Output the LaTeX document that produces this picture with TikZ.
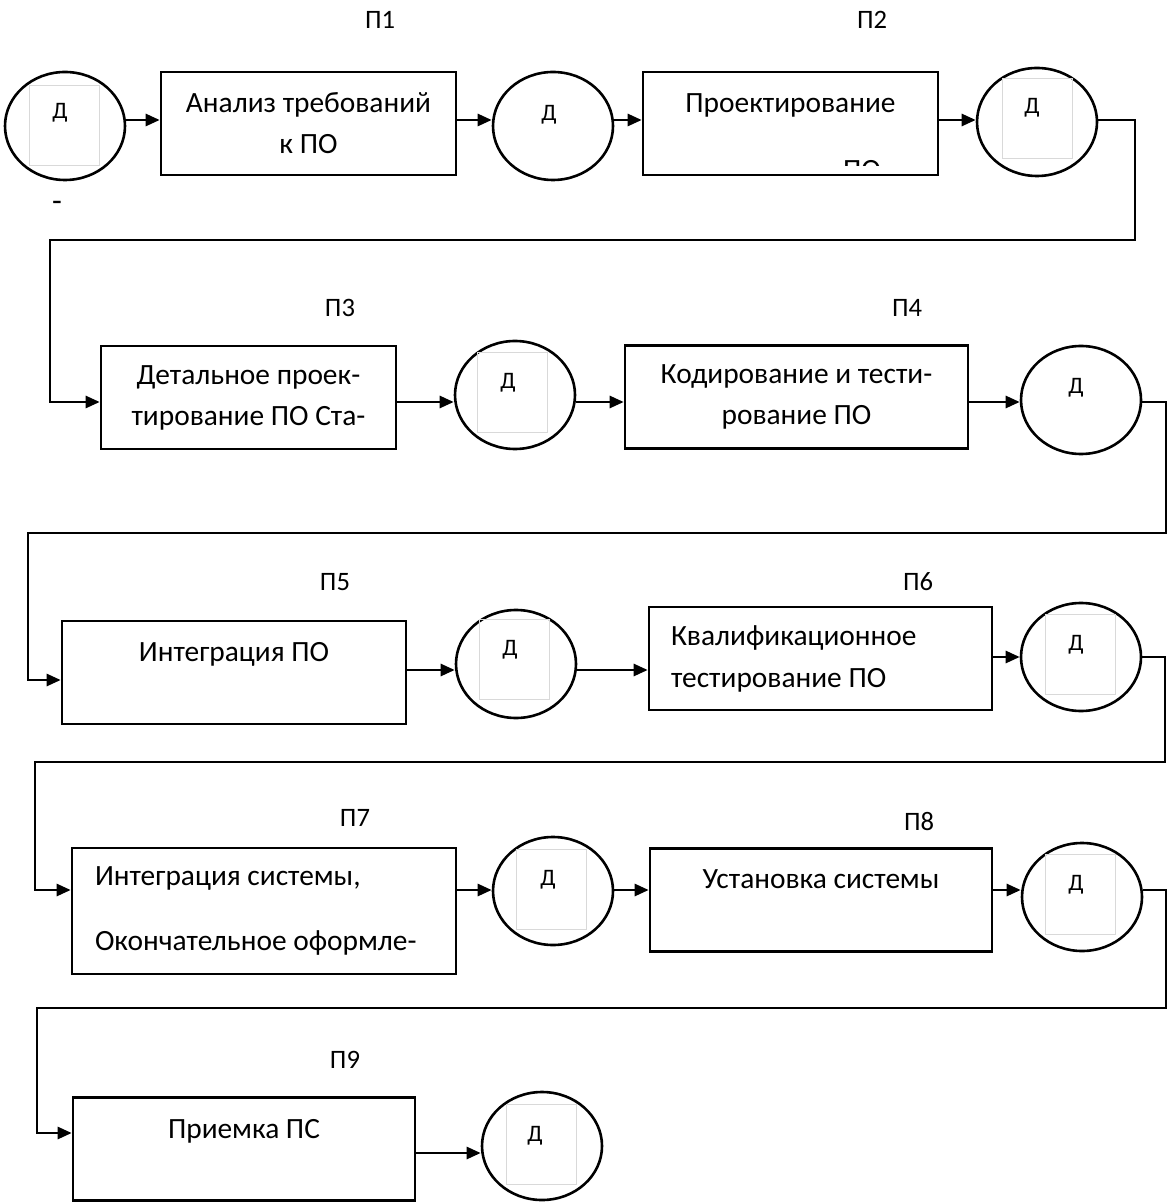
\documentclass[tikz,border=0pt]{standalone}
\usepackage{fontspec}
\setmainfont{Carlito}
\usetikzlibrary{shapes.geometric,arrows.meta}
\tikzset{
  procbox/.style={draw, line width=1.3pt, minimum width=147.5pt, minimum height=51.5pt, align=center, font=\fontsize{14.7}{20.5}\selectfont},
  docnode/.style={draw, ellipse, line width=1.3pt, minimum width=60pt, minimum height=54pt, inner sep=0pt},
  docframe/.style={draw=gray!30, line width=0.4pt, minimum width=35pt, minimum height=40pt, inner sep=0pt},
  doctext/.style={font=\fontsize{11.8}{13}\selectfont, inner sep=0pt},
  lbl/.style={font=\fontsize{13.3}{15}\selectfont},
  flow/.style={line width=1.3pt, -{Triangle[length=7pt,width=6pt]}}
}
\begin{document}
\begin{tikzpicture}[x=0.5pt,y=-0.5pt]
\useasboundingbox (0,0) rectangle (1168,1202);
% heights of the arrows in each row
\coordinate (r1) at (0,120);
\coordinate (r2) at (0,402);
\coordinate (r3in) at (0,680);
\coordinate (r3) at (0,670);
\coordinate (r3b) at (0,657);
\coordinate (r4) at (0,890);
\coordinate (r5in) at (0,1133);
\coordinate (r5) at (0,1153);
% processes
\node[procbox] (p1) at (308.5,123.5) {Анализ требований\\к ПО};
\node[procbox] (p2) at (790.5,123.5) {Проектирование\\\mbox{}};
\node[procbox] (p3) at (248.5,397.5) {Детальное проек-\\тирование ПО Ста-};
\node[procbox, minimum width=171.5pt] (p4) at (796.5,397) {Кодирование и тести-\\рование ПО};
\node[procbox, minimum width=172pt] (p5) at (234,672.5) {Интеграция ПО\\\mbox{}};
\node[procbox, align=flush left, text width=149.5pt, inner xsep=11pt, font=\fontsize{14.7}{21}\selectfont] (p6) at (820.5,658.5) {Квалификационное\\тестирование ПО};
\node[procbox, align=flush left, text width=169pt, inner xsep=11.5pt, minimum height=63pt, font=\fontsize{14.7}{32.5}\selectfont] (p7) at (264,911) {Интеграция системы,\\Окончательное оформле-};
\node[procbox, minimum width=171pt] (p8) at (821,900) {Установка системы\\\mbox{}};
\node[procbox, minimum width=171pt] (p9) at (244,1149) {Приемка ПС\\\mbox{}};
\begin{scope}
\clip (830,150) rectangle (900,166);
\node[font=\fontsize{14.7}{16}\selectfont] (p2cut) at (862,170) {ПО};
\end{scope}
% labels
\foreach \n/\x/\y in {1/380/20, 2/872/20, 3/340/308, 4/907/308, 5/335/582, 6/918/582, 7/355/818, 8/919/822, 9/345/1060}
\node[lbl] (lab\n) at (\x,\y) {П\n};
\node[font=\fontsize{16}{18}\selectfont] (dash) at (57,206) {-};
% documents
\foreach \n/\x/\y in {0/65/126, 1/553/126, 2/1037/122, 3/515/395, 4/1081/400, 5/516/664, 6/1081/657, 7/553/891, 8/1082/897, 9/542/1146}
\node[docnode] (d\n) at (\x,\y) {};
\foreach \n/\x/\y in {0/64/125, 2/1037/118, 3/512/392, 5/514/659, 6/1080/654, 7/551/889, 8/1080/894, 9/541/1144}
\node[docframe] (f\n) at (\x,\y) {};
\foreach \n/\x/\y in {0/60/113, 1/549/115, 2/1032/108, 3/508/383, 4/1076/388, 5/510/650, 6/1076/645, 7/548/880, 8/1076/885, 9/535/1136}
\node[doctext] (t\n) at (\x,\y) {Д};
% row 1
\draw[flow] (d0.east |- r1) -- (p1.west |- r1);
\draw[flow] (p1.east |- r1) -- (d1.west |- r1);
\draw[flow] (d1.east |- r1) -- (p2.west |- r1);
\draw[flow] (p2.east |- r1) -- (d2.west |- r1);
\draw[flow] (d2.east |- r1) -- (1135,120) |- (50,240) |- (p3.west |- r2);
% row 2
\draw[flow] (p3.east |- r2) -- (d3.west |- r2);
\draw[flow] (d3.east |- r2) -- (p4.west |- r2);
\draw[flow] (p4.east |- r2) -- (d4.west |- r2);
\draw[flow] (d4.east |- r2) -- (1166,402) |- (28,533) |- (p5.west |- r3in);
% row 3
\draw[flow] (p5.east |- r3) -- (d5.west |- r3);
\draw[flow] (d5.east |- r3) -- (p6.west |- r3);
\draw[flow] (p6.east |- r3b) -- (d6.west |- r3b);
\draw[flow] (d6.east |- r3b) -- (1165,657) |- (35,762) |- (p7.west |- r4);
% row 4
\draw[flow] (p7.east |- r4) -- (d7.west |- r4);
\draw[flow] (d7.east |- r4) -- (p8.west |- r4);
\draw[flow] (p8.east |- r4) -- (d8.west |- r4);
\draw[flow] (d8.east |- r4) -- (1166,890) |- (37,1008) |- (p9.west |- r5in);
% row 5
\draw[flow] (p9.east |- r5) -- (d9.west |- r5);
\end{tikzpicture}
\end{document}
